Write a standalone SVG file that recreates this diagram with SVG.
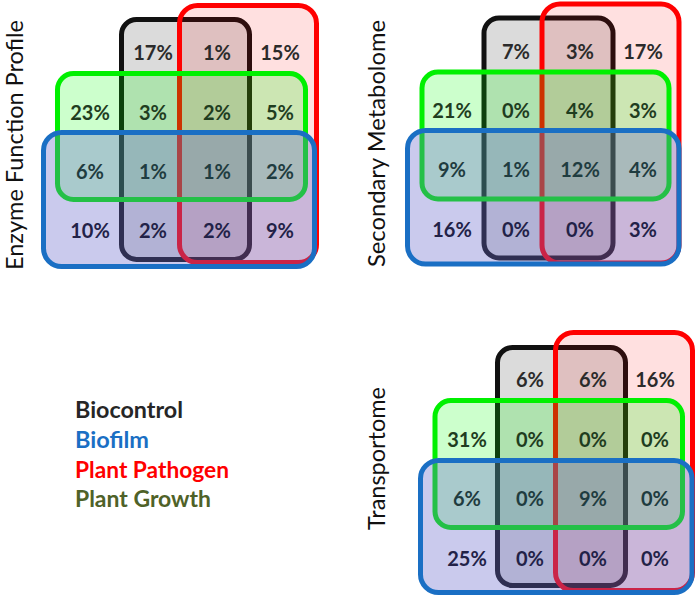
<svg xmlns="http://www.w3.org/2000/svg" width="697" height="599" viewBox="0 0 697 599">
<style>
.set{stroke-width:5}
.bc{fill:#000;fill-opacity:.14;stroke:#111}
.pp{fill:#f00;fill-opacity:.12;stroke:#f00}
.pg{fill:#0f0;fill-opacity:.2;stroke:#00f000}
.bf{fill:#6666cc;fill-opacity:.35;stroke:#1a6fc4}
.v{font-family:Lato,"Open Sans","Liberation Sans",sans-serif;font-weight:700;font-size:20px;text-anchor:middle}
.r1{fill:#2b2b2b}.r2{fill:#1f3d1f}.r3{fill:#1f3c40}.r4{fill:#222248}
.t{font-family:Lato,"Open Sans","Liberation Sans",sans-serif;font-size:23px;fill:#111;text-anchor:middle}
.lg{font-family:Lato,"Open Sans","Liberation Sans",sans-serif;font-weight:700;font-size:22px}
</style>
<rect width="697" height="599" fill="#fff"/>

<g id="panel-enzyme">
  <g id="enzyme-sets">
    <rect class="set bc" x="121.5" y="19.5" width="128" height="240" rx="15"/>
    <rect class="set pp" x="179.5" y="5.5" width="137" height="257" rx="18"/>
    <rect class="set pg" x="57.5" y="73.5" width="248" height="126" rx="16"/>
    <rect class="set bf" x="43.5" y="132.5" width="271" height="134" rx="18"/>
  </g>
  <g id="enzyme-values" class="v">
    <text class="r1" x="153" y="60">17%</text><text class="r1" x="217" y="60">1%</text><text class="r1" x="280" y="60">15%</text>
    <text class="r2" x="90" y="120">23%</text><text class="r2" x="153" y="120">3%</text><text class="r2" x="217" y="120">2%</text><text class="r2" x="280" y="120">5%</text>
    <text class="r3" x="90" y="179">6%</text><text class="r3" x="153" y="179">1%</text><text class="r3" x="217" y="179">1%</text><text class="r3" x="280" y="179">2%</text>
    <text class="r4" x="90" y="238">10%</text><text class="r4" x="153" y="238">2%</text><text class="r4" x="217" y="238">2%</text><text class="r4" x="280" y="238">9%</text>
  </g>
  <text id="enzyme-title" class="t" transform="translate(23,145) rotate(-90)" textLength="250" lengthAdjust="spacingAndGlyphs">Enzyme Function Profile</text>
</g>

<g id="panel-metabolome">
  <g id="metabolome-sets">
    <rect class="set bc" x="484" y="18" width="129" height="240" rx="15"/>
    <rect class="set pp" x="542" y="4" width="137" height="259" rx="18"/>
    <rect class="set pg" x="422" y="72" width="247" height="127" rx="16"/>
    <rect class="set bf" x="407.5" y="130.5" width="271.5" height="133.5" rx="18"/>
  </g>
  <g id="metabolome-values" class="v">
    <text class="r1" x="516" y="58.5">7%</text><text class="r1" x="580" y="58.5">3%</text><text class="r1" x="643" y="58.5">17%</text>
    <text class="r2" x="452" y="117.5">21%</text><text class="r2" x="516" y="117.5">0%</text><text class="r2" x="580" y="117.5">4%</text><text class="r2" x="643" y="117.5">3%</text>
    <text class="r3" x="452" y="177">9%</text><text class="r3" x="516" y="177">1%</text><text class="r3" x="580" y="177">12%</text><text class="r3" x="643" y="177">4%</text>
    <text class="r4" x="452" y="237">16%</text><text class="r4" x="516" y="237">0%</text><text class="r4" x="580" y="237">0%</text><text class="r4" x="643" y="237">3%</text>
  </g>
  <text id="metabolome-title" class="t" transform="translate(385,143.5) rotate(-90)" textLength="247" lengthAdjust="spacingAndGlyphs">Secondary Metabolome</text>
</g>

<g id="panel-transportome">
  <g id="transportome-sets">
    <rect class="set bc" x="497.5" y="347.5" width="128" height="238" rx="15"/>
    <rect class="set pp" x="555.5" y="332.5" width="137" height="258" rx="18"/>
    <rect class="set pg" x="435" y="400.5" width="247.5" height="127" rx="16"/>
    <rect class="set bf" x="420.5" y="460.5" width="271.5" height="132" rx="18"/>
  </g>
  <g id="transportome-values" class="v">
    <text class="r1" x="530" y="387">6%</text><text class="r1" x="593" y="387">6%</text><text class="r1" x="655" y="387">16%</text>
    <text class="r2" x="467" y="447">31%</text><text class="r2" x="530" y="447">0%</text><text class="r2" x="593" y="447">0%</text><text class="r2" x="655" y="447">0%</text>
    <text class="r3" x="467" y="506">6%</text><text class="r3" x="530" y="506">0%</text><text class="r3" x="593" y="506">9%</text><text class="r3" x="655" y="506">0%</text>
    <text class="r4" x="467" y="566">25%</text><text class="r4" x="530" y="566">0%</text><text class="r4" x="593" y="566">0%</text><text class="r4" x="655" y="566">0%</text>
  </g>
  <text id="transportome-title" class="t" transform="translate(385,458.5) rotate(-90)" textLength="143" lengthAdjust="spacingAndGlyphs">Transportome</text>
</g>

<g id="legend" class="lg">
  <text x="75" y="418" fill="#262626" textLength="108" lengthAdjust="spacingAndGlyphs">Biocontrol</text>
  <text x="75" y="448" fill="#1a6fc4" textLength="74" lengthAdjust="spacingAndGlyphs">Biofilm</text>
  <text x="75" y="478" fill="#ff0000" textLength="154" lengthAdjust="spacingAndGlyphs">Plant Pathogen</text>
  <text x="75" y="507" fill="#4f6228" textLength="136" lengthAdjust="spacingAndGlyphs">Plant Growth</text>
</g>
</svg>
